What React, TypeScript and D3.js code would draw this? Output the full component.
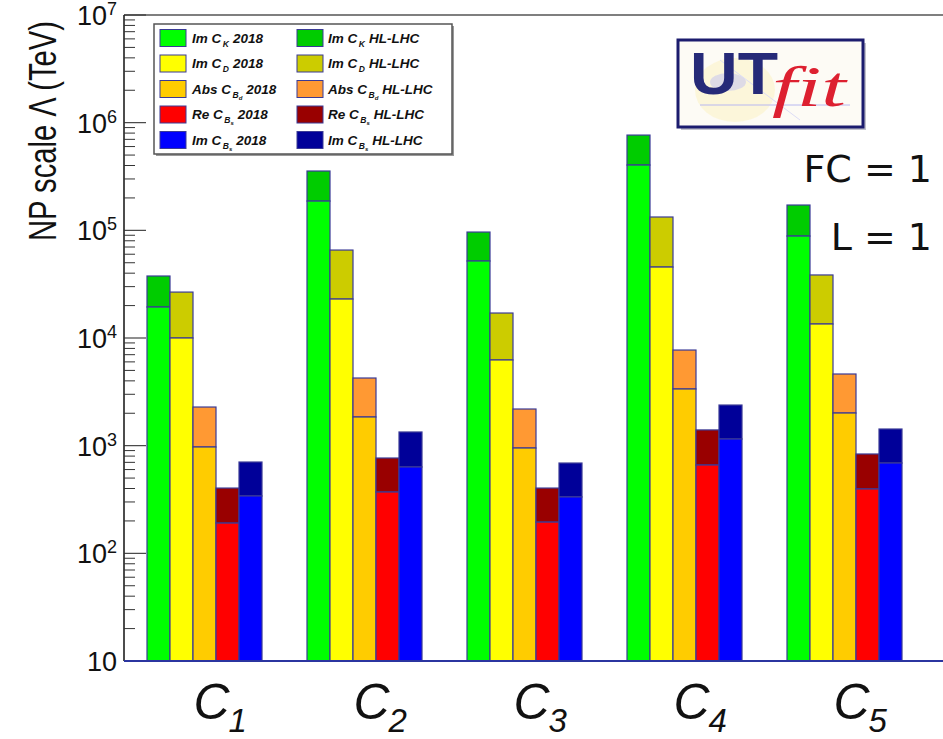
import React from "react";
import * as d3 from "d3";

// Operator labels (C_1 ... C_5)
const categories = ["1", "2", "3", "4", "5"];

// Lower bounds on the NP scale (TeV): present (2018) and projected (HL-LHC)
const imCK2018 = [19400, 187000, 51900, 404000, 88500];
const imCKHL = [37650, 355600, 96400, 767000, 171800];
const imCD2018 = [10000, 23000, 6250, 45600, 13490];
const imCDHL = [26700, 65600, 17060, 133000, 38500];
const absCBd2018 = [972, 1846, 951, 3360, 2010];
const absCBdHL = [2285, 4250, 2190, 7730, 4630];
const reCBs2018 = [191, 371, 195, 661, 396];
const reCBsHL = [404, 768, 404, 1400, 837];
const imCBs2018 = [341, 634, 334, 1153, 690];
const imCBsHL = [705, 1340, 690, 2385, 1428];

// Y axis decade labels (exponents)
const decadeExps = [1, 2, 3, 4, 5, 6, 7];

type Series = {
  key: string;
  pre: string;
  sub: string;
  subsub: string;
  now: number[];
  hl: number[];
  cNow: string;
  cHL: string;
};

const series: Series[] = [
  { key: "ck", pre: "Im C", sub: "K", subsub: "", now: imCK2018, hl: imCKHL, cNow: "#00ff00", cHL: "#00cc00" },
  { key: "cd", pre: "Im C", sub: "D", subsub: "", now: imCD2018, hl: imCDHL, cNow: "#ffff00", cHL: "#cccc00" },
  { key: "bd", pre: "Abs C", sub: "B", subsub: "d", now: absCBd2018, hl: absCBdHL, cNow: "#ffcc00", cHL: "#ff9933" },
  { key: "rbs", pre: "Re C", sub: "B", subsub: "s", now: reCBs2018, hl: reCBsHL, cNow: "#ff0000", cHL: "#990000" },
  { key: "ibs", pre: "Im C", sub: "B", subsub: "s", now: imCBs2018, hl: imCBsHL, cNow: "#0000ff", cHL: "#000099" },
];

const W = 943;
const H = 739;
const axisX = 124;
const plotTop = 15;
const plotBottom = 661;

const barStroke = "#3a3a96";

function LegendLabel({ x, y, s, tail }: { x: number; y: number; s: Series; tail: string }) {
  return (
    <text
      x={x}
      y={y}
      fontFamily="'Liberation Sans', Arial, sans-serif"
      fontStyle="italic"
      fontWeight="bold"
      fontSize={13.5}
      fill="#111"
    >
      {s.pre}
      <tspan dx={1.5} dy={4} fontSize={8.5}>
        {s.sub}
      </tspan>
      {s.subsub ? (
        <tspan dy={2} fontSize={6}>
          {s.subsub}
        </tspan>
      ) : null}
      <tspan dy={s.subsub ? -6 : -4} dx={4}>
        {tail}
      </tspan>
    </text>
  );
}

export default function App() {
  const y = d3.scaleLog().domain([10, 1e7]).range([plotBottom, plotTop]);

  const step = 160;
  const padInner = 45 / 160;
  const padOuter = 23 / 160;
  const x = d3
    .scaleBand<string>()
    .domain(categories)
    .range([axisX, axisX + step * (categories.length - padInner + 2 * padOuter)])
    .paddingInner(padInner)
    .paddingOuter(padOuter)
    .align(0.5);

  const xs = d3
    .scaleBand<string>()
    .domain(series.map((s) => s.key))
    .range([0, x.bandwidth()])
    .padding(0);

  // Log ticks: majors at decades, minors at 2..9
  const majorTicks = decadeExps.map((e) => Math.pow(10, e));
  const minorTicks: number[] = [];
  for (let e = 1; e < 7; e++) {
    for (let m = 2; m <= 9; m++) minorTicks.push(m * Math.pow(10, e));
  }

  const legendX = 154;
  const legendY = 24;
  const legendW = 298;
  const legendH = 130;
  const rowY = [38, 63.5, 89, 114.5, 140];

  return (
    <svg
      width={W}
      height={H}
      viewBox={`0 0 ${W} ${H}`}
      style={{ position: "absolute", left: 0, top: 0, background: "#fff" }}
    >
      <rect x={0} y={0} width={W} height={H} fill="#fff" />

      {/* frame top line */}
      <line x1={axisX} x2={W} y1={plotTop} y2={plotTop} stroke="#555" strokeWidth={1.3} />

      {/* bars: 2018 bound at the bottom, HL-LHC extension stacked above */}
      {categories.map((c, i) => (
        <g key={c} transform={`translate(${x(c)},0)`}>
          {series.map((s) => {
            const bx = xs(s.key) as number;
            const bw = xs.bandwidth();
            const yNow = y(s.now[i]);
            const yHL = y(s.hl[i]);
            return (
              <g key={s.key}>
                <rect
                  x={bx}
                  y={yHL}
                  width={bw}
                  height={yNow - yHL}
                  fill={s.cHL}
                  stroke={barStroke}
                  strokeWidth={1.2}
                />
                <rect
                  x={bx}
                  y={yNow}
                  width={bw}
                  height={plotBottom - yNow}
                  fill={s.cNow}
                  stroke={barStroke}
                  strokeWidth={1.2}
                />
              </g>
            );
          })}
        </g>
      ))}

      {/* y axis */}
      <line x1={axisX} x2={axisX} y1={plotTop} y2={plotBottom} stroke="#111" strokeWidth={1.5} />
      {majorTicks.map((t) => (
        <line key={`M${t}`} x1={axisX} x2={axisX + 22} y1={y(t)} y2={y(t)} stroke="#333" strokeWidth={1.1} />
      ))}
      {minorTicks.map((t) => (
        <line key={`m${t}`} x1={axisX} x2={axisX + 11} y1={y(t)} y2={y(t)} stroke="#333" strokeWidth={1} />
      ))}
      {decadeExps.map((e) => {
        const ty = y(Math.pow(10, e));
        if (e === 1) {
          return (
            <text
              key={e}
              x={117}
              y={ty + 10}
              textAnchor="end"
              fontFamily="'Liberation Sans', Arial, sans-serif"
              fontSize={27}
              fill="#111"
            >
              10
            </text>
          );
        }
        return (
          <text
            key={e}
            x={117}
            y={ty + 10}
            textAnchor="end"
            fontFamily="'Liberation Sans', Arial, sans-serif"
            fontSize={27}
            fill="#111"
          >
            10
            <tspan dy={-10} fontSize={18}>
              {e}
            </tspan>
          </text>
        );
      })}

      {/* bottom axis */}
      <line x1={axisX} x2={W} y1={plotBottom} y2={plotBottom} stroke="#2b35a0" strokeWidth={2.2} />

      {/* y axis title */}
      <text
        transform={`translate(56,131) rotate(-90)`}
        textAnchor="middle"
        fontFamily="'Liberation Sans', Arial, sans-serif"
        fontSize={38}
        fill="#111"
        textLength={220}
        lengthAdjust="spacingAndGlyphs"
      >
        NP scale Λ (TeV)
      </text>

      {/* category labels */}
      {categories.map((c) => {
        const cx = (x(c) as number) + x.bandwidth() / 2;
        return (
          <text
            key={`lab${c}`}
            x={cx - 11}
            y={719}
            fontFamily="'Liberation Sans', Arial, sans-serif"
            fontStyle="italic"
            fontSize={50}
            fill="#111"
          >
            C
            <tspan dx={-1} dy={13} fontSize={33}>
              {c}
            </tspan>
          </text>
        );
      })}

      {/* legend */}
      <rect x={legendX + 2} y={legendY + 2} width={legendW} height={legendH} fill="#999" />
      <rect x={legendX} y={legendY} width={legendW} height={legendH} fill="#fff" stroke="#555" strokeWidth={1.5} />
      {series.map((s, r) => (
        <g key={`leg${s.key}`}>
          <rect x={160} y={rowY[r] - 8.5} width={26} height={17} fill={s.cNow} stroke={barStroke} strokeWidth={1} />
          <LegendLabel x={192} y={rowY[r] + 4.5} s={s} tail="2018" />
          <rect x={297} y={rowY[r] - 8.5} width={26} height={17} fill={s.cHL} stroke={barStroke} strokeWidth={1} />
          <LegendLabel x={328} y={rowY[r] + 4.5} s={s} tail="HL-LHC" />
        </g>
      ))}

      {/* UTfit logo */}
      <g>
        <rect x={681} y={43} width={185} height={87} fill="#9a9aa8" opacity={0.6} />
        <rect x={678} y={40} width={185} height={87} fill="#fdfbf5" stroke="#1c1c6e" strokeWidth={3} />
        <ellipse cx={735} cy={90} rx={40} ry={32} fill="#fbf3c8" opacity={0.6} />
        <ellipse cx={728} cy={82} rx={18} ry={9} fill="#c9c9ee" opacity={0.6} />
        <line x1={700} x2={850} y1={105} y2={105} stroke="#b8b8f0" strokeWidth={1} />
        <line x1={720} x2={800} y1={60} y2={120} stroke="#dcdcf5" strokeWidth={1} />
        <text
          x={690}
          y={94}
          fontFamily="'Liberation Sans', Arial, sans-serif"
          fontWeight="bold"
          fontSize={60}
          fill="#262a78"
          textLength={88}
          lengthAdjust="spacingAndGlyphs"
        >
          UT
        </text>
        <text
          x={772}
          y={106}
          fontFamily="'Liberation Serif', 'DejaVu Serif', serif"
          fontStyle="italic"
          fontSize={58}
          fill="#dd2030"
          textLength={74}
          lengthAdjust="spacingAndGlyphs"
        >
          fit
        </text>
      </g>

      {/* annotations */}
      <text x={932} y={182} textAnchor="end" fontFamily="'DejaVu Sans', sans-serif" fontSize={38} fill="#111">
        FC = 1
      </text>
      <text x={932} y={250} textAnchor="end" fontFamily="'DejaVu Sans', sans-serif" fontSize={38} fill="#111">
        L = 1
      </text>
    </svg>
  );
}
